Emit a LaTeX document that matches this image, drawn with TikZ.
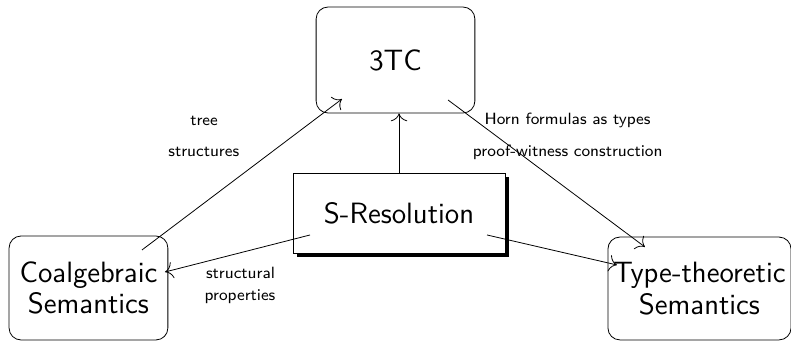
\documentclass[tikz,border=0pt]{standalone}
\usetikzlibrary{shadows,arrows.meta}
\renewcommand{\familydefault}{\sfdefault}
\tikzset{
  block/.style={draw, rounded corners=6pt, align=center, inner sep=0pt,
    font=\fontsize{14.8}{16}\selectfont},
  core/.style={draw, fill=white, inner sep=0pt, font=\fontsize{14.8}{16}\selectfont,
    drop shadow={shadow xshift=2pt, shadow yshift=-2pt, opacity=1, fill=black}},
  link/.style={-{To[scale=1.6]}},
  note/.style={anchor=base, inner sep=0pt, font=\fontsize{8.2}{10}\selectfont},
}
\begin{document}
\begin{tikzpicture}
  \useasboundingbox (0,0) rectangle (14,6.053);

  % boxes
  \node[block, minimum width=2.81cm, minimum height=1.876cm] (tc) at (7.0,4.991) {3TC};
  \node[block, minimum width=2.81cm, minimum height=1.84cm] (coalg) at (1.566,0.956) {Coalgebraic\\Semantics};
  \node[block, minimum width=3.24cm, minimum height=1.82cm] (type) at (12.38,0.947) {Type-theoretic\\Semantics};
  \node[core, minimum width=3.75cm, minimum height=1.416cm] (sres) at (7.062,2.283) {S-Resolution};

  % connectors
  \draw[link] ([shift={(0.947,0.673)}]coalg.center) -- ([shift={(-0.947,-0.69)}]tc.center);
  \draw[link] (sres.north) -- (sres.north |- tc.south);
  \draw[link] ([shift={(0.93,-0.708)}]tc.center) -- ([shift={(-0.965,0.735)}]type.center);
  \draw[link] ([shift={(-1.575,-0.389)}]sres.center) -- ([shift={(1.354,0.283)}]coalg.center);
  \draw[link] ([shift={(1.558,-0.389)}]sres.center) -- ([shift={(-1.46,0.416)}]type.center);

  % labels
  \node[note] (tree) at (3.611,3.836) {tree};
  \node[note] (struct) at (3.607,3.275) {structures};
  \node[note] (horn) at (10.045,3.841) {Horn formulas as types};
  \node[note] (proof) at (10.048,3.280) {proof-witness construction};
  \node[note] (structl) at (4.257,1.115) {structural};
  \node[note] (props) at (4.248,0.726) {properties};
\end{tikzpicture}
\end{document}
